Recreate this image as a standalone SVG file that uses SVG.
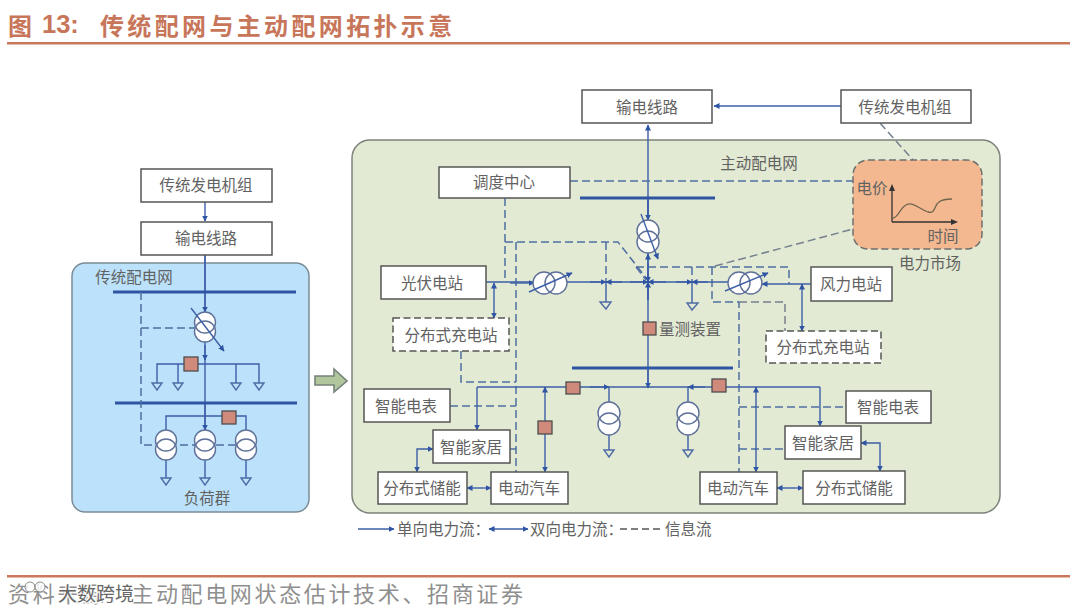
<svg xmlns="http://www.w3.org/2000/svg" width="1080" height="614" viewBox="0 0 1080 614">
<style>
text{font-family:"Noto Sans CJK SC","Noto Sans",sans-serif;fill:#626262;font-size:15.5px;text-anchor:middle;dominant-baseline:central}
.box{fill:#fff;stroke:#555;stroke-width:1.5}
.dbox{fill:#fff;stroke:#555;stroke-width:1.5;stroke-dasharray:7 3.5}
.w{fill:none;stroke:#3d5fa8;stroke-width:1.4}
.bus{fill:none;stroke:#2f54a3;stroke-width:3}
.d{fill:none;stroke:#4f6fa3;stroke-width:1.5;stroke-dasharray:8 4}
.g{fill:none;stroke:#75808f;stroke-width:1.5;stroke-dasharray:8 4}
.a{marker-end:url(#ah)}
.b{marker-start:url(#ah);marker-end:url(#ah)}
.ob{fill:none;stroke:#3d5fa8;stroke-width:1.4;marker-end:url(#ah)}
.m{fill:#d08a7c;stroke:#4d4d4d;stroke-width:1.3}
.gnd{fill:none;stroke:#4f6ca6;stroke-width:1.4}
.title{font-size:24px;font-weight:700;fill:#c8765a;text-anchor:start}
.leg{text-anchor:start}
.ring{fill:none;stroke:#5f7199;stroke-width:1.4}
</style>
<defs>
<marker id="ah" markerUnits="userSpaceOnUse" markerWidth="7" markerHeight="7" refX="5.5" refY="3" orient="auto-start-reverse"><path d="M0 0L6 3L0 6Z" fill="#2f54a3"/></marker>
<g id="tvs"><circle cx="0" cy="-4.5" r="10.5" fill="#fff"/><circle cx="0" cy="4.5" r="10.5" fill="#fff"/><circle class="ring" cx="0" cy="-4.5" r="10.5"/><circle class="ring" cx="0" cy="4.5" r="10.5"/></g>
<g id="tvl"><circle cx="0" cy="-5.5" r="11" fill="#fff"/><circle cx="0" cy="5.5" r="11" fill="#fff"/><circle class="ring" cx="0" cy="-5.5" r="11"/><circle class="ring" cx="0" cy="5.5" r="11"/></g>
<g id="thl"><circle cx="-6" cy="0" r="11" fill="#fff"/><circle cx="6" cy="0" r="11" fill="#fff"/><circle class="ring" cx="-6" cy="0" r="11"/><circle class="ring" cx="6" cy="0" r="11"/></g>
</defs>
<rect width="1080" height="614" fill="#fff"/>
<g id="header">
<text class="title" x="8" y="24">图</text>
<text class="title" x="42" y="24" style="font-family:'Liberation Sans',sans-serif;font-size:25.500px">13:</text>
<text class="title" x="100" y="24" style="letter-spacing:3.350px">传统配网与主动配网拓扑示意</text>
<rect x="7" y="42" width="1063" height="2.5" fill="#c9785a"/>
</g>
<g id="footer">
<rect x="7" y="575" width="1063" height="2.5" fill="#c9785a"/>
<text x="8" y="592" style="font-size:22px;fill:#8f8f8f;text-anchor:start;letter-spacing:2.65px">资料来源：主动配电网状态估计技术、招商证券</text>
<g id="watermark">
<circle cx="30" cy="587" r="5" fill="#fff" fill-opacity=".8" stroke="#8a8a8a"/>
<circle cx="40" cy="587" r="5" fill="#fff" fill-opacity=".8" stroke="#8a8a8a"/>
<text x="96" y="592" style="font-size:19px;fill:#666;paint-order:stroke;stroke:#fff;stroke-width:3px;stroke-opacity:.85">大数跨境</text>
</g>
</g>
<g id="panel-traditional"><rect x="72" y="263" width="237" height="249" rx="13" fill="#bce2fb" stroke="#7c8c96" stroke-width="1.5"/><text x="134" y="276">传统配电网</text><text x="207" y="497">负荷群</text></g>
<g id="panel-active"><rect x="352" y="140" width="648" height="373" rx="18" fill="#e2ead3" stroke="#7c8278" stroke-width="1.5"/><text x="759" y="162">主动配电网</text></g>
<polygon id="flow-arrow" points="315,376 334,376 334,369 347,381 334,392 334,385 315,385" fill="#b2c69e" stroke="#75827a" stroke-width="1.6"/>

<g id="connectors">
<path class="w a" d="M205 202V221"/>
<path class="w" d="M205 255V478"/>
<path class="w a" d="M205 255V312"/>
<path class="w a" d="M205 345V360"/>
<path class="w a" d="M205 404V430"/>
<path class="bus" d="M113 292H296M115 403H297"/>
<path class="w" d="M157 383V364H259V383M178 364V383M236 364V383"/>
<path class="w" d="M166 430V416H246V430M166 460V478M246 460V478"/>
<path class="d" d="M141 292V445H236M141 328H195"/>
<path class="w a" d="M841 106H714"/>
<path class="w a" d="M648 240V125"/>
<path class="w" d="M648 198V388"/>
<path class="w a" d="M648 200V220"/>
<path class="w a" d="M648 300V254"/>
<path class="bus" d="M580 198H715M572 368H733"/>
<path class="d" d="M570 181H853"/>
<path class="d" d="M505 198V282M505 242H618L647 279M516 242V472"/>
<path class="d" d="M606 242V282"/>
<path class="d" d="M636 267H789V284M692 267V282M636 267L646 280"/>
<path class="d" d="M712 267V302H739V472"/>
<path class="g" d="M739 302H785V331"/>
<path class="g" d="M715 266L853 229M880 123L913 160"/>
<path class="d" d="M461 351V382H516M450 406H516M510 449H516M739 407H846M739 449H785"/>
<path class="w" d="M486 282H761"/>
<path class="w a" d="M510 283H534"/>
<path class="w a" d="M590 282H606"/>
<path class="w a" d="M622 282H606"/>
<path class="w a" d="M630 282H648"/>
<path class="w a" d="M666 282H648"/>
<path class="w a" d="M676 282H692"/>
<path class="w a" d="M708 282H692"/>
<path class="w a" d="M648 264V282"/>
<path class="w a" d="M648 300V282"/>
<path class="w a" d="M811 284H762"/>
<path class="w" d="M606 282V302M692 282V303"/>
<path class="w b" d="M494 283V318"/>
<path class="w b" d="M802 284V331"/>
<path class="w" d="M477 387H820"/>
<path class="w a" d="M477 387V430"/>
<path class="w a" d="M820 387V426"/>
<path class="w a" d="M648 368V388"/>
<path class="w a" d="M590 387H609"/>
<path class="w a" d="M705 387H688"/>
<path class="w b" d="M545 387V472"/>
<path class="w b" d="M756 387V472"/>
<path class="w" d="M609 387V450M688 387V450"/>
<path class="w b" d="M467 488H491"/>
<path class="w b" d="M777 488H803"/>
<path class="w b" d="M417 472V449H433"/>
<path class="w b" d="M861 443H880V471"/>
</g>

<g id="symbols-left">
<g id="tl1"><use href="#tvs" x="205" y="327"/><path class="ob" d="M191 308L224 351"/></g>
<use id="tl2" href="#tvs" x="166" y="445"/>
<use id="tl3" href="#tvs" x="205" y="445"/>
<use id="tl4" href="#tvs" x="246" y="445"/>
<path class="gnd" d="M152 383H162L157 390ZM173 383H183L178 390ZM231 383H241L236 390ZM254 383H264L259 390ZM161 478H171L166 485ZM200 478H210L205 485ZM241 478H251L246 485Z"/>
<rect id="ml1" class="m" x="184" y="357" width="14" height="14"/>
<rect id="ml2" class="m" x="222" y="411" width="14" height="13"/>
</g>
<g id="symbols-right">
<g id="tr1"><use href="#tvl" x="648" y="236.500"/><path class="ob" d="M641 214L658 259"/></g>
<g id="tr2"><use href="#thl" x="550" y="283"/><path class="ob" d="M529 292L572 273"/></g>
<g id="tr3"><use href="#thl" x="745" y="283"/><path class="ob" d="M725 291L768 273"/></g>
<use id="tr4" href="#tvl" x="609" y="418.500"/>
<use id="tr5" href="#tvl" x="688" y="418.500"/>
<path class="gnd" d="M600 302H611L606 309ZM687 303H698L692 310ZM604 450H614L609 457ZM683 450H693L688 457Z"/>
<rect id="mr1" class="m" x="643" y="322" width="13" height="13"/>
<rect id="mr2" class="m" x="566" y="382" width="14" height="12"/>
<rect id="mr3" class="m" x="712" y="379" width="14" height="13"/>
<rect id="mr4" class="m" x="538" y="421" width="14" height="13"/>
<text x="690" y="328">量测装置</text>
</g>

<g id="n-gen-left"><rect class="box" x="141" y="169" width="131" height="33"/><text x="206" y="184">传统发电机组</text></g>
<g id="n-line-left"><rect class="box" x="141" y="222" width="131" height="33"/><text x="206" y="237">输电线路</text></g>
<g id="n-line"><rect class="box" x="582" y="90" width="130" height="33"/><text x="647" y="106">输电线路</text></g>
<g id="n-gen"><rect class="box" x="841" y="90" width="130" height="33"/><text x="905" y="106">传统发电机组</text></g>
<g id="n-dispatch"><rect class="box" x="439" y="167" width="131" height="31"/><text x="504" y="181">调度中心</text></g>
<g id="n-pv"><rect class="box" x="381" y="266" width="105" height="33"/><text x="432" y="282">光伏电站</text></g>
<g id="n-wind"><rect class="box" x="811" y="267" width="81" height="34"/><text x="851" y="283">风力电站</text></g>
<g id="n-chg-left"><rect class="dbox" x="393" y="318" width="116" height="33"/><text x="451" y="334">分布式充电站</text></g>
<g id="n-chg-right"><rect class="dbox" x="766" y="331" width="115" height="32"/><text x="823" y="346">分布式充电站</text></g>
<g id="n-meter-left"><rect class="box" x="364" y="389" width="86" height="33"/><text x="406" y="405">智能电表</text></g>
<g id="n-home-left"><rect class="box" x="433" y="430" width="77" height="33"/><text x="471" y="446">智能家居</text></g>
<g id="n-stor-left"><rect class="box" x="378" y="472" width="89" height="32"/><text x="422" y="487">分布式储能</text></g>
<g id="n-ev-left"><rect class="box" x="491" y="472" width="77" height="32"/><text x="529" y="487">电动汽车</text></g>
<g id="n-meter-right"><rect class="box" x="846" y="391" width="85" height="32"/><text x="888" y="406">智能电表</text></g>
<g id="n-home-right"><rect class="box" x="785" y="426" width="76" height="33"/><text x="823" y="442">智能家居</text></g>
<g id="n-ev-right"><rect class="box" x="700" y="472" width="77" height="32"/><text x="738" y="487">电动汽车</text></g>
<g id="n-stor-right"><rect class="box" x="803" y="471" width="102" height="33"/><text x="854" y="487">分布式储能</text></g>

<g id="n-market">
<rect x="853" y="160" width="129" height="89" rx="15" fill="#f3b88f" stroke="#6f6f6f" stroke-width="1.5" stroke-dasharray="7 3.5"/>
<path d="M892 222V187M892 222H955" fill="none" stroke="#333" stroke-width="1.3"/>
<path d="M889 191L892 184L895 191ZM951 219L958 222L951 225Z" fill="#333"/>
<path d="M893 218C898 218 900 208 906 205C913 201 919 209 928 212C936 214 934 205 939 202C943 199 947 199 952 199" fill="none" stroke="#6f6650" stroke-width="1.3"/>
<text x="872" y="187">电价</text>
<text x="943" y="235">时间</text>
<text x="930" y="262">电力市场</text>
</g>

<g id="legend">
<path class="w a" d="M358 529H394"/>
<text class="leg" x="397" y="528">单向电力流：</text>
<path class="w b" d="M489 529H528"/>
<text class="leg" x="530" y="528">双向电力流：</text>
<path d="M620 529H664" fill="none" stroke="#555" stroke-width="1.3" stroke-dasharray="7 4"/>
<text class="leg" x="665" y="528">信息流</text>
</g>
</svg>
